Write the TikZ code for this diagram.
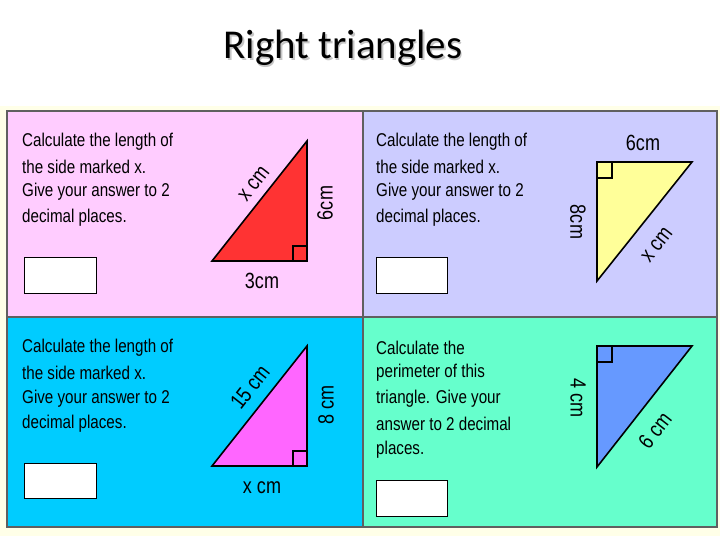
\documentclass[tikz,border=0pt]{standalone}
\usepackage{fontspec}
\setmainfont{Liberation Sans}
\newfontfamily\titlefont{Carlito}
\newfontfamily\narrowfont{Liberation Sans}[FakeStretch=0.82]
\definecolor{pinkp}{HTML}{FFCCFF}
\definecolor{lavp}{HTML}{CCCCFF}
\definecolor{cyanp}{HTML}{00CCFF}
\definecolor{aquap}{HTML}{66FFCC}
\definecolor{redt}{HTML}{FF3333}
\definecolor{yelt}{HTML}{FFFF99}
\definecolor{magt}{HTML}{FF66FF}
\definecolor{bluet}{HTML}{6699FF}
\definecolor{bgy}{HTML}{FFFFE8}
\begin{document}
\begin{tikzpicture}[x=1pt,y=-1pt,
  txt/.style={anchor=west,font=\narrowfont\fontsize{18.5}{18.5}\selectfont,inner sep=0},
  lab/.style={font=\narrowfont\fontsize{22}{22}\selectfont,inner sep=0},
  tri/.style={draw=black,line width=1.6pt,line join=miter},
  ra/.style={draw=black,line width=1.2pt},
  ans/.style={draw=black,line width=1pt,fill=white}]
\useasboundingbox (0,0) rectangle (720,540);
\fill[white] (0,0) rectangle (720,540);
\fill[bgy] (0,106) rectangle (720,536);
\node[text=gray!45] (shadow) at (344.5,49.5) {\titlefont\fontsize{41}{41}\selectfont Right triangles};
\node (title) at (343,48) {\titlefont\fontsize{41}{41}\selectfont Right triangles};
\fill[gray!75!black] (6,110) rectangle (718,528);
\fill[pinkp] (8,112) rectangle (362,316);
\fill[lavp] (364,112) rectangle (716,316);
\fill[cyanp] (8,318) rectangle (362,526);
\fill[aquap] (364,318) rectangle (716,526);
% panel 1
\node[txt] (t1a) at (22,142) {Calculate the length of};
\node[txt] (t1b) at (22,167) {the side marked x.};
\node[txt] (t1c) at (22,192) {Give your answer to 2};
\node[txt] (t1d) at (22,218) {decimal places.};
\draw[tri,fill=redt] (212,261) -- (307,141) -- (307,261) -- cycle;
\draw[ra] (293,261) -- (293,246) -- (307,246);
\node[lab,rotate=52] (l1a) at (254,184) {x cm};
\node[lab,rotate=90] (l1b) at (325,203) {6cm};
\node[lab] (l1c) at (262,281) {3cm};
\node[ans,minimum width=72,minimum height=36] (a1) at (60,275) {};
% panel 2
\node[txt] (t2a) at (376,142) {Calculate the length of};
\node[txt] (t2b) at (376,167) {the side marked x.};
\node[txt] (t2c) at (376,192) {Give your answer to 2};
\node[txt] (t2d) at (376,218) {decimal places.};
\draw[tri,fill=yelt] (597,162) -- (692,162) -- (597,281) -- cycle;
\draw[ra] (597,178) -- (612,178) -- (612,162);
\node[lab] (l2a) at (643,143) {6cm};
\node[lab,rotate=-90] (l2b) at (578,222) {8cm};
\node[lab,rotate=52] (l2c) at (657,245) {x cm};
\node[ans,minimum width=71,minimum height=36] (a2) at (411.5,275) {};
% panel 3
\node[txt] (t3a) at (22,348) {Calculate the length of};
\node[txt] (t3b) at (22,373) {the side marked x.};
\node[txt] (t3c) at (22,399) {Give your answer to 2};
\node[txt] (t3d) at (22,424) {decimal places.};
\draw[tri,fill=magt] (212,466) -- (307,346) -- (307,466) -- cycle;
\draw[ra] (293,466) -- (293,451) -- (307,451);
\node[lab,rotate=52] (l3a) at (250,387) {15 cm};
\node[lab,rotate=90] (l3b) at (326,405) {8 cm};
\node[lab] (l3c) at (262,488) {x cm};
\node[ans,minimum width=72,minimum height=35] (a3) at (60,480.5) {};
% panel 4
\node[txt] (t4a) at (376,348) {Calculate the};
\node[txt] (t4b) at (376,373) {perimeter of this};
\node[txt] (t4c) at (376,399) {triangle. Give your};
\node[txt] (t4d) at (376,424) {answer to 2 decimal};
\node[txt] (t4e) at (376,450) {places.};
\draw[tri,fill=bluet] (597,346) -- (692,346) -- (597,467) -- cycle;
\draw[ra] (597,362) -- (612,362) -- (612,346);
\node[lab,rotate=-90] (l4a) at (578,398) {4 cm};
\node[lab,rotate=52] (l4b) at (655,430) {6 cm};
\node[ans,minimum width=71,minimum height=36] (a4) at (411.5,498) {};
\end{tikzpicture}
\end{document}
